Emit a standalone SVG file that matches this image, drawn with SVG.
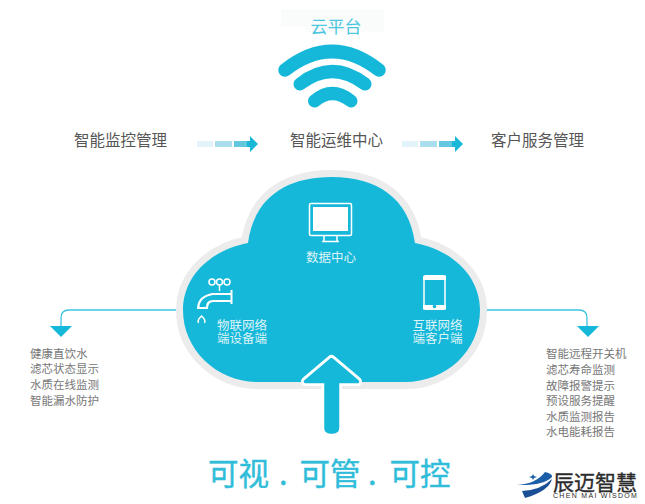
<svg xmlns="http://www.w3.org/2000/svg" width="645" height="504" viewBox="0 0 645 504">
<style>
text{font-family:"Noto Sans CJK SC","Liberation Sans",sans-serif}
.h{font-size:15.5px;fill:#555}
.w{font-size:12.5px;fill:#fff;opacity:.85}
.l{font-size:11.5px;fill:#777}
.c{fill:#15b8d9}
.line{fill:none;stroke:#3cc3de;stroke-width:1.3}
.icon{fill:none;stroke:#fff;stroke-width:1.5}
.s{font-size:30.5px;fill:#2fbdd9;stroke:#2fbdd9;stroke-width:.4}
</style>
<defs>
<g id="flow"><rect x="0" y="0" width="16" height="6" fill="#e2f4f9"/><rect x="18" y="0" width="17" height="6" fill="#a9dfec"/><rect x="37" y="0" width="16" height="6" fill="#62c7df"/><path d="M53 0H50V6H53V11L61 3L53-5Z" fill="#1ab6d8"/></g>
</defs>
<rect width="645" height="504" fill="#fff"/>
<path d="M281 9H384V32H305V27H281Z" fill="#fafbfb"/>
<g id="connectors">
<path class="line" d="M183 310H69Q61 310 61 318V328"/>
<path class="line" d="M480 310H579Q587 310 587 318V328"/>
<path class="c" d="M50 326H72L61 337Z"/>
<path class="c" d="M577 326H599L588 337Z"/>
<use href="#flow" x="197" y="141"/>
<use href="#flow" x="402" y="141"/>
</g>
<g id="cloud-platform">
<text x="336" y="33" text-anchor="middle" font-size="17" fill="#4cc6df">云平台</text>
<g fill="none" stroke="#15b8d9" stroke-linecap="round">
<path d="M285 70Q332 33 379 70" stroke-width="13.500"/>
<path d="M300 84Q332 59 365 84" stroke-width="13"/>
<path d="M314.500 101Q332 86 351 101" stroke-width="13"/>
</g>
</g>
<g id="monitor-mgmt"><text class="h" x="120.500" y="146" text-anchor="middle">智能监控管理</text></g>
<g id="ops-center"><text class="h" x="336.500" y="146" text-anchor="middle">智能运维中心</text></g>
<g id="customer-mgmt"><text class="h" x="537.500" y="146" text-anchor="middle">客户服务管理</text></g>
<g id="cloud">
<path id="cloud-shape" d="M248 243C254 198 286 177 331.500 177C377 177 409 198 415 243C452 250 480 276 480 310C480 351 446 382 405 382H258C218 382 183 351 183 310C183 276 211 250 248 243Z" class="c" stroke="#ececec" stroke-width="14" paint-order="stroke"/>
</g>
<g id="data-center">
<rect x="309.500" y="203.500" width="42" height="32" rx="1.500" class="icon"/>
<rect x="313" y="207" width="35" height="24" fill="#fff"/>
<path class="icon" d="M324 236V241M337 236V241M322 241.500H339"/>
<text class="w" x="331" y="262" text-anchor="middle">数据中心</text>
</g>
<g id="iot-device">
<circle cx="212" cy="282" r="3" class="icon"/><circle cx="219.500" cy="282" r="3" class="icon"/><circle cx="227" cy="282" r="3" class="icon"/>
<path class="icon" d="M219.500 285V291"/>
<path fill="#fff" d="M230.500 290H232.500V304H230.500V302H213Q208 302 208 309H197Q197 296 212 293H230.500ZM230.500 295H213Q200 297 199.500 307H206Q206 300 213 300H230.500Z"/>
<path class="icon" d="M198.500 323Q197 320 201.500 316Q206 320 204.500 323"/>
<text class="w" x="217"><tspan x="217" y="330">物联网络</tspan><tspan x="217" y="343">端设备端</tspan></text>
</g>
<g id="mobile-client">
<rect x="424" y="276" width="21" height="33" rx="3" class="icon" stroke-width="2"/>
<path fill="#fff" d="M423 280H446V276Q446 275 443 275H426Q423 275 423 277ZM423 305H446V309Q446 310 443 310H426Q423 310 423 309Z"/>
<circle cx="434.500" cy="306.500" r="1.800" fill="#15b8d9"/>
<text class="w"><tspan x="412.500" y="330">互联网络</tspan><tspan x="412.500" y="343">端客户端</tspan></text>
</g>
<g id="up-arrow">
<path d="M331.500 359.500L357.500 381.500H337.500V428Q337.500 432 331.500 432Q326 432 326 428V381.500H305.500Z" fill="#fff" stroke="#fff" stroke-width="9" stroke-linejoin="round"/>
<path class="c" d="M331.500 359.500L357.500 381.500H337.500V428Q337.500 432 331.500 432Q326 432 326 428V381.500H305.500Z" stroke="#15b8d9" stroke-width="3.500" stroke-linejoin="round"/>
</g>
<g id="left-list">
<text class="l" x="30" y="358">健康直饮水</text>
<text class="l" x="30" y="373">滤芯状态显示</text>
<text class="l" x="30" y="389">水质在线监测</text>
<text class="l" x="30" y="405">智能漏水防护</text>
</g>
<g id="right-list">
<text class="l" x="546" y="358">智能远程开关机</text>
<text class="l" x="546" y="374">滤芯寿命监测</text>
<text class="l" x="546" y="390">故障报警提示</text>
<text class="l" x="546" y="405">预设服务提醒</text>
<text class="l" x="546" y="421">水质监测报告</text>
<text class="l" x="546" y="436">水电能耗报告</text>
</g>
<g id="slogan"><text class="s" x="208" y="485">可视</text><text class="s" x="279" y="485">.</text><text class="s" x="299.500" y="485">可管</text><text class="s" x="368" y="485">.</text><text class="s" x="389.500" y="485">可控</text></g>
<g id="logo">
<path d="M517 485Q536 484 545 472Q553 474 552 477Q543 486 517 485Z" fill="#1b5fa8"/>
<path d="M522 491Q541 490 552 479Q549 491 525 498Z" fill="#1a4f96"/>
<path d="M533 474L534 476L537 477L534 478L533 480L532 478L529 477L532 476Z" fill="#1b5fa8"/>
<text fill="#2b2b2b"><tspan x="553" y="490" font-size="21" stroke="#2b2b2b" stroke-width=".35">辰迈智慧</tspan><tspan x="553" y="497.500" font-size="7" letter-spacing="1.300" font-family="Liberation Sans">CHEN MAI WISDOM</tspan></text>
</g>
</svg>
